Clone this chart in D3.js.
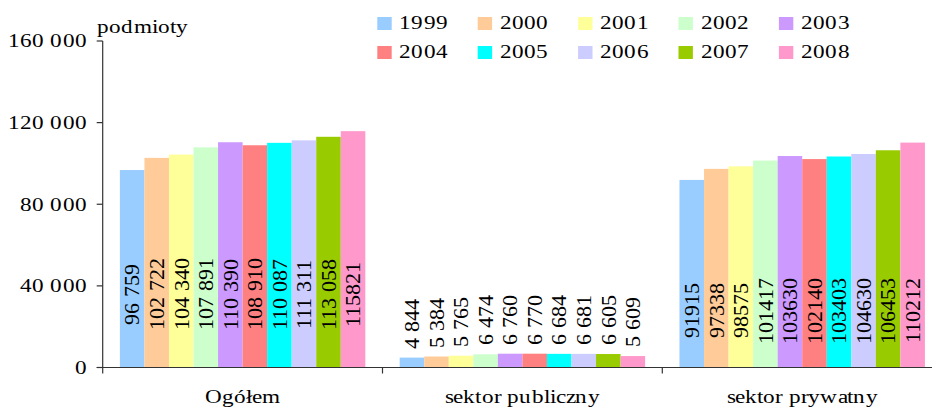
<!DOCTYPE html>
<html>
<head>
<meta charset="utf-8">
<script src="https://cdn.jsdelivr.net/npm/d3@7"></script>
<style>
@font-face {
    font-family: "ChartSerif";
    src: local("Liberation Serif"), local("LiberationSerif"), local("LiberationSerif-Regular"),
         local("DejaVu Serif"), local("DejaVuSerif"), local("Times New Roman");
}
body { margin: 0; background: #fff; }
svg text { font-family: "ChartSerif", "Liberation Serif", serif; fill: #000; }
</style>
</head>
<body>
<svg width="932" height="409"></svg>
<script>
const categories = ["Ogółem", "sektor publiczny", "sektor prywatny"]
const years = ["1999", "2000", "2001", "2002", "2003", "2004", "2005", "2006", "2007", "2008"]

const ogolem    = [96759, 102722, 104340, 107891, 110390, 108910, 110087, 111311, 113058, 115821]
const publiczny = [4844, 5384, 5765, 6474, 6760, 6770, 6684, 6681, 6605, 5609]
const prywatny  = [91915, 97338, 98575, 101417, 103630, 102140, 103403, 104630, 106453, 110212]

const ogolemLabels    = ["96 759", "102 722", "104 340", "107 891", "110 390", "108 910", "110 087", "111 311", "113 058", "115821"]
const publicznyLabels = ["4 844", "5 384", "5 765", "6 474", "6 760", "6 770", "6 684", "6 681", "6 605", "5 609"]
const prywatnyLabels  = ["91915", "97338", "98575", "101417", "103630", "102140", "103403", "104630", "106453", "110212"]

const yTicks = [0, 40000, 80000, 120000, 160000]
const colors = ["#99ccff", "#ffcc99", "#ffff99", "#ccffcc", "#cc99ff",
                "#ff8080", "#00ffff", "#ccccff", "#99cc00", "#ff99cc"]

const series = [ogolem, publiczny, prywatny]
const labels = [ogolemLabels, publicznyLabels, prywatnyLabels]
// where the value labels sit: middle of the text at a fixed value, or above the bar
const labelMode = [{mid: 36000}, {above: 9}, {mid: 27700}]

// the picture is a little wider than the font, stretch the text to match
function stretch(sel, k)
{
    sel.each(function () {
        let w = this.getComputedTextLength()
        d3.select(this)
            .attr("textLength", w * k)
            .attr("lengthAdjust", "spacingAndGlyphs")
    })
}

function draw()
{
    let svg = d3.select("svg")
    const axisColor = "#333"

    let x0 = d3.scaleBand()
        .domain(categories)
        .range([102.7, 102.7 + 3 * 279.8])

    let x1 = d3.scaleBand()
        .domain(years)
        .range([0, x0.bandwidth()])
        .paddingOuter(0.7)

    let y = d3.scaleLinear()
        .domain([0, 160000])
        .range([367.5, 41])

    let fmt = v => d3.format(",")(v).replace(/,/g, " ")

    // bars
    categories.forEach(function (cat, ci) {
        svg.append("g")
            .selectAll("rect")
            .data(series[ci])
            .enter()
            .append("rect")
                .attr("x", (d, i) => x0(cat) + x1(years[i]))
                .attr("y", d => y(d))
                .attr("width", x1.bandwidth())
                .attr("height", d => y(0) - y(d))
                .style("fill", (d, i) => colors[i])
    })

    // axes
    svg.append("line")
        .attr("x1", x0.range()[0]).attr("x2", x0.range()[0])
        .attr("y1", y(160000)).attr("y2", y(0))
        .style("stroke", axisColor).style("stroke-width", 1.2)
    svg.append("line")
        .attr("x1", x0.range()[0] - 6).attr("x2", 932)
        .attr("y1", y(0)).attr("y2", y(0))
        .style("stroke", axisColor).style("stroke-width", 1.2)

    svg.selectAll(".ytick")
        .data(yTicks)
        .enter()
        .append("line")
            .attr("x1", x0.range()[0] - 6).attr("x2", x0.range()[0])
            .attr("y1", d => y(d)).attr("y2", d => y(d))
            .style("stroke", axisColor).style("stroke-width", 1.2)

    svg.selectAll(".ylabel")
        .data(yTicks)
        .enter()
        .append("text")
            .attr("x", 87)
            .attr("y", d => y(d))
            .attr("dy", "0.35em")
            .attr("text-anchor", "end")
            .style("font-size", "18.5px")
            .text(d => fmt(d))
        .call(stretch, 1.22)

    svg.selectAll(".xtick")
        .data(categories)
        .enter()
        .append("line")
            .attr("x1", d => x0(d)).attr("x2", d => x0(d))
            .attr("y1", y(0)).attr("y2", y(0) + 6)
            .style("stroke", axisColor).style("stroke-width", 1.2)

    svg.selectAll(".xlabel")
        .data(categories)
        .enter()
        .append("text")
            .attr("x", d => x0(d) + x0.bandwidth() / 2)
            .attr("y", 403)
            .attr("text-anchor", "middle")
            .style("font-size", "18.5px")
            .text(d => d)
        .call(stretch, 1.22)

    svg.append("text")
        .attr("x", 97)
        .attr("y", 33)
        .style("font-size", "18.5px")
        .text("podmioty")
        .call(stretch, 1.22)

    // value labels
    categories.forEach(function (cat, ci) {
        let mode = labelMode[ci]
        svg.append("g")
            .selectAll("text")
            .data(series[ci])
            .enter()
            .append("text")
                .attr("transform", function (d, i) {
                    let cx = x0(cat) + x1(years[i]) + x1.bandwidth() / 2
                    let cy = mode.above !== undefined ? y(d) - mode.above : y(mode.mid)
                    return `translate(${cx},${cy}) rotate(-90)`
                })
                .attr("dy", "0.33em")
                .attr("text-anchor", mode.above !== undefined ? "start" : "middle")
                .style("font-size", "22px")
                .text((d, i) => labels[ci][i])
            .call(stretch, 1.0)
    })

    // legend, two rows of five
    let legend = svg.append("g")
        .selectAll("g")
        .data(years)
        .enter()
        .append("g")
            .attr("transform", (d, i) => `translate(${377.3 + (i % 5) * 100.4},${17 + Math.floor(i / 5) * 29})`)

    legend.append("rect")
        .attr("width", 14.4)
        .attr("height", 13)
        .style("fill", (d, i) => colors[i])

    legend.append("text")
        .attr("x", 22)
        .attr("y", 12.2)
        .style("font-size", "18.5px")
        .text(d => d)
        .call(stretch, 1.22)
}

if (document.fonts && document.fonts.load)
    document.fonts.load("18px ChartSerif").then(draw, draw)
else
    draw()
</script>
</body>
</html>
